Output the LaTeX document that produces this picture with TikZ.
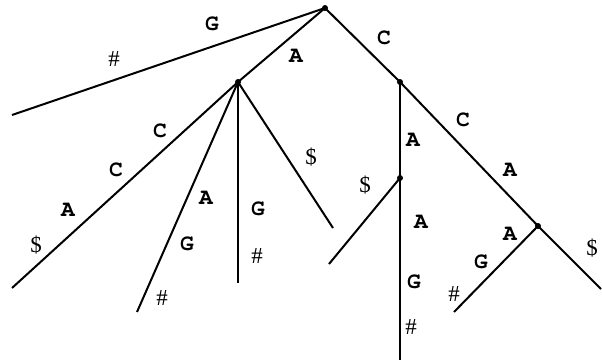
\documentclass[tikz,border=0pt]{standalone}
\usepackage[T1]{fontenc}
\usepackage{fontspec}
\setmainfont{Liberation Serif}
\newcommand{\pcrbold}{\fontencoding{T1}\fontfamily{pcr}\fontseries{b}\selectfont}
\begin{document}
\begin{tikzpicture}[x=1bp,y=-1bp,
  edge/.style={line width=2bp},
  inner/.style={circle,fill=black,inner sep=0pt,minimum size=6bp},
  lab/.style={font=\pcrbold\fontsize{23}{23}\selectfont,inner sep=0pt},
  sym/.style={font=\fontsize{23}{23}\selectfont,inner sep=0pt}]
\useasboundingbox (0,0) rectangle (602,362);
% internal nodes
\node[inner] (r) at (325,8) {};
\node[inner] (n1) at (238,82) {};
\node[inner] (n2) at (400,82) {};
\node[inner] (n3) at (400,178) {};
\node[inner] (n4) at (538,226) {};
% leaves
\coordinate (l0) at (12,115);
\coordinate (l1) at (12,288);
\coordinate (l2) at (137,312);
\coordinate (l3) at (238,283);
\coordinate (l4) at (333,228);
\coordinate (l5) at (329,264);
\coordinate (l6) at (400,360);
\coordinate (l7) at (454,312);
\coordinate (l8) at (601,289);
% edges
\draw[edge] (r.center) -- (l0);
\draw[edge] (r.center) -- (n1.center);
\draw[edge] (r.center) -- (n2.center);
\draw[edge] (n1.center) -- (l1);
\draw[edge] (n1.center) -- (l2);
\draw[edge] (n1.center) -- (l3);
\draw[edge] (n1.center) -- (l4);
\draw[edge] (n2.center) -- (n3.center);
\draw[edge] (n2.center) -- (n4.center);
\draw[edge] (n3.center) -- (l5);
\draw[edge] (n3.center) -- (l6);
\draw[edge] (n4.center) -- (l7);
\draw[edge] (n4.center) -- (l8);
% labels
\node[lab] (t1) at (212,24) {G};
\node[sym] (t2) at (114,59) {\#};
\node[lab] (t3) at (296,56) {A};
\node[lab] (t4) at (384,38) {C};
\node[lab] (t5) at (463,120) {C};
\node[lab] (t6) at (510,170) {A};
\node[sym] (t7) at (592,248) {\$};
\node[lab] (t8) at (413,140) {A};
\node[sym] (t9) at (365,185) {\$};
\node[lab] (t10) at (421,222) {A};
\node[lab] (t11) at (414,282) {G};
\node[sym] (t12) at (411,327) {\#};
\node[lab] (t13) at (510,234) {A};
\node[lab] (t14) at (481,262) {G};
\node[sym] (t15) at (454,294) {\#};
\node[lab] (t16) at (160,131) {C};
\node[lab] (t17) at (116,170) {C};
\node[lab] (t18) at (68,210) {A};
\node[sym] (t19) at (36,245) {\$};
\node[lab] (t20) at (206,198) {A};
\node[lab] (t21) at (187,244) {G};
\node[sym] (t22) at (162,298) {\#};
\node[lab] (t23) at (258,209) {G};
\node[sym] (t24) at (257,256) {\#};
\node[sym] (t25) at (311,157) {\$};
\end{tikzpicture}
\end{document}
